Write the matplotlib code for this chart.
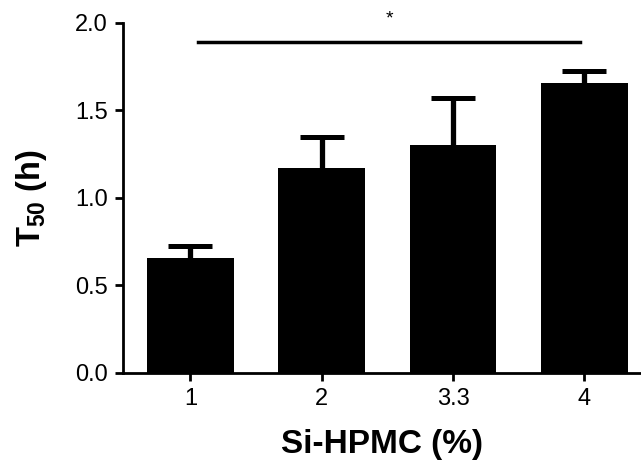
import matplotlib
matplotlib.use('Agg')
import matplotlib.pyplot as plt
import numpy as np

# 数据
categories = ['1', '2', '3.3', '4']
t50_mean = [0.654, 1.171, 1.303, 1.654]
t50_err = [0.070, 0.174, 0.265, 0.072]

plt.rcParams['font.family'] = ['Liberation Sans', 'DejaVu Sans']
plt.rcParams['mathtext.fontset'] = 'custom'
plt.rcParams['mathtext.rm'] = 'Liberation Sans'
plt.rcParams['mathtext.bf'] = 'Liberation Sans:bold'

fig = plt.figure(figsize=(6.41, 4.62), dpi=100)
ax = fig.add_axes([0.1919, 0.1933, 0.8081, 0.7576])

x = np.arange(len(categories))
ax.bar(x, t50_mean, width=0.66, color='black', zorder=2)
eb = ax.errorbar(x, t50_mean, yerr=[np.zeros(len(x)), t50_err], fmt='none',
                 ecolor='black', elinewidth=3.8, capsize=15.7, capthick=3.6, zorder=1)
eb[1][0].set_visible(False)  # 只保留上方误差线帽

# 显著性标记
ax.plot([0.06, 2.965], [1.887, 1.887], color='black', lw=2.5, clip_on=False)
ax.text(1.513, 2.02, '*', ha='center', va='center', fontsize=14)

ax.set_xlim(-0.513, 3.432)
ax.set_ylim(0, 2.0)
ax.set_yticks([0, 0.5, 1.0, 1.5, 2.0])
ax.set_yticklabels(['0.0', '0.5', '1.0', '1.5', '2.0'])
ax.set_xticks(x)
ax.set_xticklabels(categories)

for s in ['top', 'right']:
    ax.spines[s].set_visible(False)
for s in ['left', 'bottom']:
    ax.spines[s].set_linewidth(2.0)
ax.tick_params(axis='both', width=2.0, length=6, labelsize=17, direction='out', pad=5)

ax.set_xlabel('Si-HPMC (%)', fontsize=24, fontweight='bold', labelpad=14)
ax.set_ylabel(r'T$_{\mathbf{50}}$ (h)', fontsize=23.5, fontweight='bold', labelpad=19)

fig.savefig('out.png', dpi=100)
